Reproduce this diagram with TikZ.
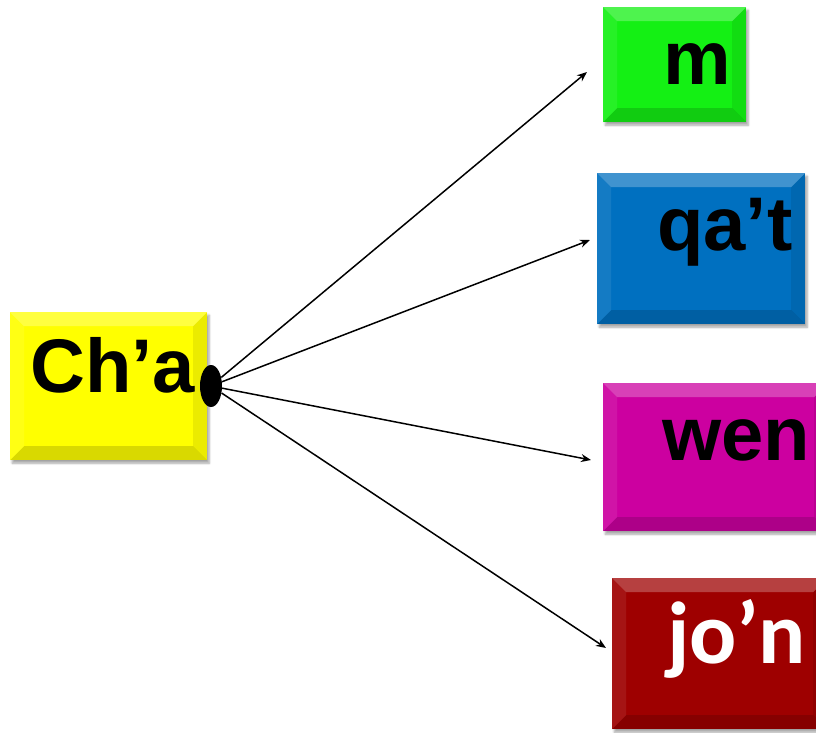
\documentclass[tikz,border=0pt]{standalone}
\usepackage{fontspec}
\setmainfont{Liberation Sans}
\newfontfamily\carlito{Carlito}
\usepackage{tikz}
\usetikzlibrary{shapes.geometric,arrows.meta,shadows.blur}
\definecolor{chayellow}{RGB}{255,255,0}
\definecolor{mgreen}{RGB}{20,240,20}
\definecolor{qatblue}{RGB}{0,112,192}
\definecolor{wenpink}{RGB}{204,0,160}
\definecolor{jonred}{RGB}{158,0,0}

\begin{document}
\begin{tikzpicture}[x=1pt, y=-1pt,
    card/.style={rectangle, anchor=north west, inner sep=0pt, fill=#1,
        blur shadow={shadow xshift=2pt, shadow yshift=-3pt, shadow blur steps=6, shadow opacity=35},
        path picture={
            \fill[white, opacity=.25] (path picture bounding box.north west) -- (path picture bounding box.north east)
                -- ([xshift=-14pt, yshift=-14pt]path picture bounding box.north east) -- ([xshift=14pt, yshift=-14pt]path picture bounding box.north west) -- cycle;
            \fill[white, opacity=.08] (path picture bounding box.north west) -- ([xshift=14pt, yshift=-14pt]path picture bounding box.north west)
                -- ([xshift=14pt, yshift=14pt]path picture bounding box.south west) -- (path picture bounding box.south west) -- cycle;
            \fill[black, opacity=.08] (path picture bounding box.north east) -- ([xshift=-14pt, yshift=-14pt]path picture bounding box.north east)
                -- ([xshift=-14pt, yshift=14pt]path picture bounding box.south east) -- (path picture bounding box.south east) -- cycle;
            \fill[black, opacity=.15] (path picture bounding box.south west) -- ([xshift=14pt, yshift=14pt]path picture bounding box.south west)
                -- ([xshift=-14pt, yshift=14pt]path picture bounding box.south east) -- (path picture bounding box.south east) -- cycle;
        }},
    word/.style={anchor=base west, inner sep=0pt, font=\bfseries\fontsize{76}{80}\selectfont},
    link/.style={-{Stealth[length=10pt, width=8pt]}, line width=1.5pt}
]
\useasboundingbox (0,0) rectangle (816,733);

% boxes
\node[card=chayellow, minimum width=197pt, minimum height=148pt] (cha) at (10,312) {};
\node[card=mgreen, minimum width=143pt, minimum height=115pt] (m) at (603,7) {};
\node[card=qatblue, minimum width=208pt, minimum height=151pt] (qat) at (597,173) {};
\node[card=wenpink, minimum width=225pt, minimum height=148pt] (wen) at (603,383) {};
\node[card=jonred, minimum width=215pt, minimum height=151pt] (jon) at (612,578) {};

% texts
\node[word] (chatext) at (30,392) {Ch’a};
\node[word] (mtext) at (663,85) {m};
\node[word] (qattext) at (657,250) {qa’t};
\node[word] (wentext) at (662,460) {wen};
\node[word, text=white, font=\carlito\bfseries\fontsize{88}{92}\selectfont] (jontext) at (667,663) {jo’n};

% hub and arrows
\node[ellipse, fill=black, inner sep=0pt, minimum width=22pt, minimum height=42pt] (hub) at (211,386) {};
\coordinate (tom) at (587,72);
\coordinate (toqat) at (590,240);
\coordinate (towen) at (591,460);
\coordinate (tojon) at (606,648);
\foreach \t in {tom,toqat,towen,tojon}
    \draw[link] (hub) -- (\t);
\end{tikzpicture}
\end{document}
